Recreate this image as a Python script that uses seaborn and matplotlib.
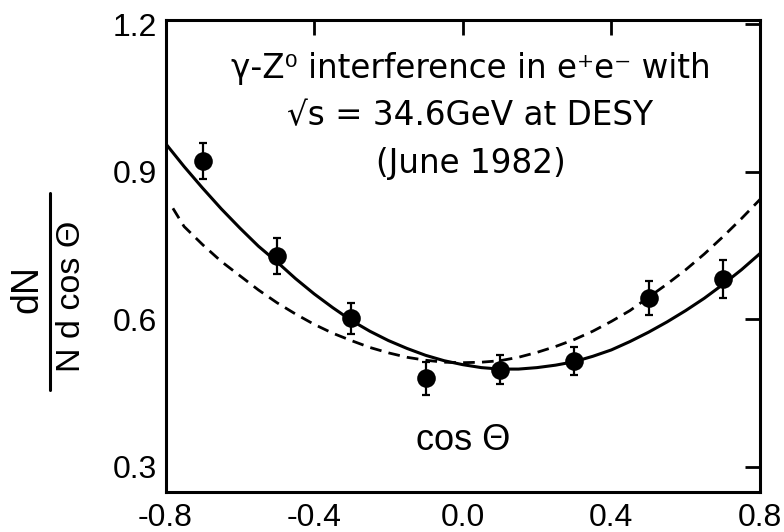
import numpy as np
import pandas as pd
import matplotlib
matplotlib.use("Agg")
import matplotlib.pyplot as plt
from matplotlib.lines import Line2D
import seaborn as sns

# ---- data ----
cos_points = [-0.7, -0.5, -0.3, -0.1, 0.1, 0.3, 0.5, 0.7]
dn_points = [0.922, 0.729, 0.602, 0.480, 0.498, 0.515, 0.644, 0.682]
dn_errors = [0.036, 0.036, 0.032, 0.034, 0.029, 0.028, 0.034, 0.038]

solid_x = [-0.80, -0.75, -0.70, -0.65, -0.60, -0.55, -0.50, -0.45, -0.40,
           -0.35, -0.30, -0.25, -0.20, -0.15, -0.10, -0.05, 0.00, 0.05,
           0.10, 0.15, 0.20, 0.25, 0.30, 0.35, 0.40, 0.45, 0.50, 0.55,
           0.60, 0.65, 0.70, 0.75, 0.80]
solid_y = [0.958, 0.911, 0.867, 0.825, 0.786, 0.749, 0.717, 0.683, 0.652,
           0.624, 0.598, 0.576, 0.557, 0.541, 0.527, 0.516, 0.508, 0.502,
           0.499, 0.499, 0.502, 0.507, 0.514, 0.525, 0.538, 0.555, 0.574,
           0.595, 0.618, 0.643, 0.671, 0.701, 0.734]

dashed_x = [-0.78, -0.75, -0.70, -0.65, -0.60, -0.55, -0.50, -0.45, -0.40,
            -0.35, -0.30, -0.25, -0.20, -0.15, -0.10, -0.05, 0.00, 0.05,
            0.10, 0.15, 0.20, 0.25, 0.30, 0.35, 0.40, 0.45, 0.50, 0.55,
            0.60, 0.65, 0.70, 0.75, 0.80]
dashed_y = [0.826, 0.789, 0.752, 0.718, 0.689, 0.660, 0.634, 0.611, 0.590,
            0.572, 0.557, 0.543, 0.532, 0.523, 0.517, 0.513, 0.512, 0.513,
            0.516, 0.523, 0.533, 0.545, 0.559, 0.576, 0.596, 0.618, 0.645,
            0.672, 0.701, 0.733, 0.768, 0.805, 0.844]

x_ticks = [-0.8, -0.4, 0.0, 0.4, 0.8]
x_ticklabels = ["-0.8", "-0.4", "0.0", "0.4", "0.8"]
y_ticks = [0.3, 0.6, 0.9, 1.2]
y_ticklabels = ["0.3", "0.6", "0.9", "1.2"]

title_text = "γ-Z⁰ interference in e⁺e⁻ with\n√s = 34.6GeV at DESY\n(June 1982)"

# ---- style ----
sns.set_style("white")
plt.rcParams['font.family'] = ['Liberation Sans', 'DejaVu Sans']

fig = plt.figure(figsize=(7.84, 5.32), dpi=100)
ax = fig.add_axes([165.5 / 784, 1 - 492 / 532, (760 - 165.5) / 784, (492 - 20) / 532])

pts = pd.DataFrame({"c": cos_points, "y": dn_points})
sol = pd.DataFrame({"c": solid_x, "y": solid_y})
das = pd.DataFrame({"c": dashed_x, "y": dashed_y})

sns.lineplot(data=sol, x="c", y="y", ax=ax, color="black", linewidth=2.2,
             sort=False)
sns.lineplot(data=das, x="c", y="y", ax=ax, color="black", linewidth=2.0,
             sort=False)
ax.lines[-1].set_dashes([4.2, 2.6])

ax.errorbar(cos_points, dn_points, yerr=dn_errors, fmt="none", ecolor="black",
            elinewidth=1.6, capsize=3, capthick=1.6, zorder=3)
sns.scatterplot(data=pts, x="c", y="y", ax=ax, color="black", s=180,
                edgecolor="black", linewidth=0, zorder=4)

ax.set_xlim(-0.8, 0.8)
ax.set_ylim(0.249, 1.209)
ax.set_xticks(x_ticks)
ax.set_xticklabels(x_ticklabels)
ax.set_yticks(y_ticks)
ax.set_yticklabels(y_ticklabels)
ax.set_xlabel("")
ax.set_ylabel("")

for s in ax.spines.values():
    s.set_linewidth(2.2)
    s.set_color("black")
    s.set_visible(True)

ax.tick_params(axis="both", which="major", direction="in", length=11, width=2.0,
               color="black", labelsize=23, top=True, right=True,
               labelcolor="black")
ax.tick_params(axis="x", pad=8)
ax.tick_params(axis="y", pad=6)

ax.text(0.513, 0.797, title_text, transform=ax.transAxes, ha="center",
        va="center", multialignment="center", fontsize=23.5,
        family=["DejaVu Sans"], linespacing=1.55, color="black")

ax.text(0.5, 0.110, "cos Θ", transform=ax.transAxes, ha="center", va="center",
        fontsize=26, color="black")

# y-axis label as a rotated fraction
fig.text(27 / 784, 1 - 289 / 532, "dN", rotation=90, ha="center", va="center",
         fontsize=27, color="black")
fig.text(72 / 784, 1 - 296 / 532, "N d cos Θ", rotation=90, ha="center",
         va="center", fontsize=24.5, color="black")
fig.add_artist(Line2D([50 / 784, 50 / 784], [1 - 193 / 532, 1 - 390 / 532],
                      transform=fig.transFigure, color="black", linewidth=2.2))

fig.savefig("out.png", dpi=100)
